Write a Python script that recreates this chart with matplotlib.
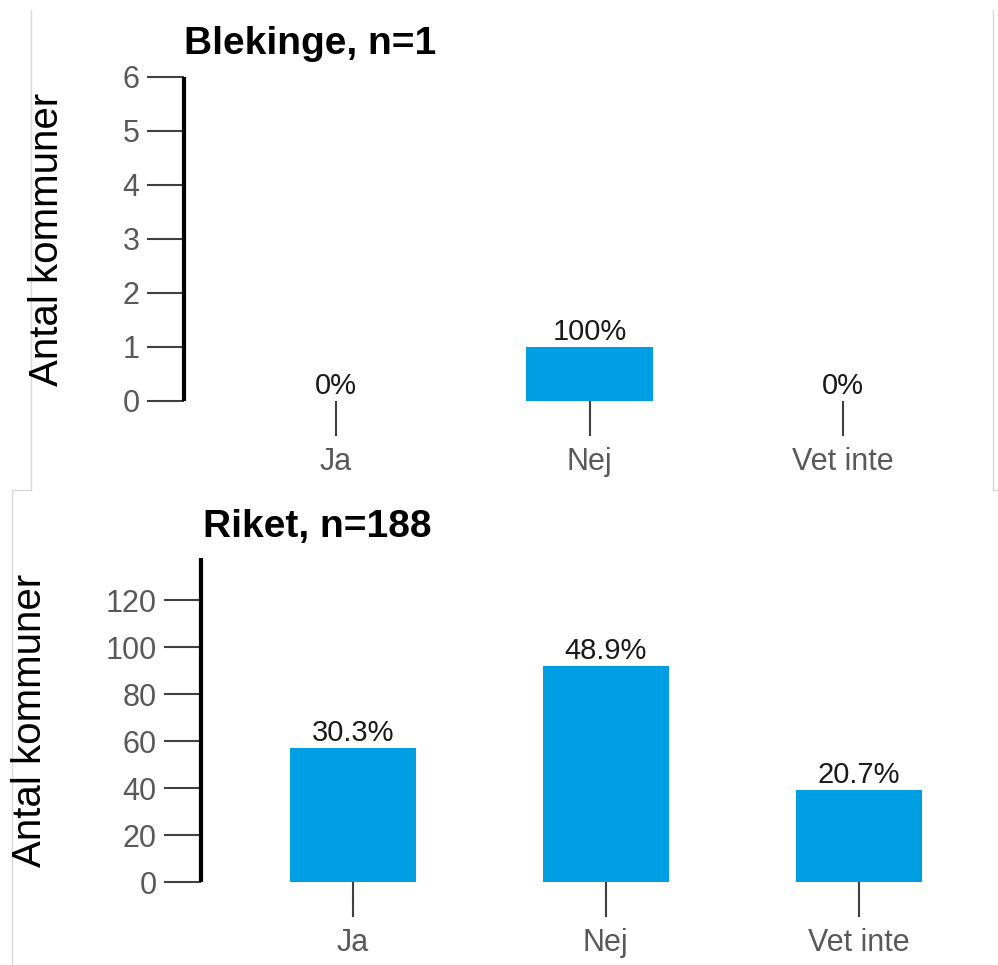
import matplotlib
matplotlib.use("Agg")
import matplotlib.pyplot as plt
from matplotlib.lines import Line2D

plt.rcParams['font.family'] = ['Liberation Sans', 'DejaVu Sans']

# Data
categories = ["Ja", "Nej", "Vet inte"]

blekinge_counts = [0, 1, 0]
blekinge_pct = ["0%", "100%", "0%"]
blekinge_title = "Blekinge, n=1"
blekinge_yticks = [0, 1, 2, 3, 4, 5, 6]

riket_counts = [57, 92, 39]
riket_pct = ["30.3%", "48.9%", "20.7%"]
riket_title = "Riket, n=188"
riket_yticks = [0, 20, 40, 60, 80, 100, 120]

ylabel = "Antal kommuner"
bar_color = "#009FE3"

W, H = 998, 965
fig = plt.figure(figsize=(W / 100, H / 100), dpi=100)


def px_axes(left, right, top, bottom):
    return fig.add_axes([left / W, 1 - bottom / H, (right - left) / W, (bottom - top) / H])


def draw_panel(ax, counts, pcts, yticks, ymax, xmax):
    x = range(len(categories))
    ax.bar(x, counts, width=0.5, color=bar_color, zorder=2)
    for xi, c, p in zip(x, counts, pcts):
        ax.annotate(p, (xi, c), xytext=(0, 1), textcoords="offset points",
                    ha="center", va="bottom", fontsize=21, color="#1a1a1a")
    ax.set_xlim(-0.6, xmax)
    ax.set_ylim(0, ymax)
    ax.set_xticks(list(x))
    ax.set_xticklabels(categories)
    ax.set_yticks(yticks)
    for s in ["top", "right", "bottom"]:
        ax.spines[s].set_visible(False)
    ax.spines["left"].set_linewidth(3)
    ax.spines["left"].set_color("black")
    ax.spines["left"].set_capstyle("butt")
    ax.tick_params(axis="y", length=27, width=1.5, color="#404040",
                   labelcolor="#595959", labelsize=22, pad=5)
    ax.tick_params(axis="x", length=25, width=1.5, color="#404040",
                   labelcolor="#595959", labelsize=22, pad=8)
    ax.patch.set_visible(False)


# Top panel - Blekinge
ax1 = px_axes(184, 184 + 3.2 * 253.5, 77, 401)
draw_panel(ax1, blekinge_counts, blekinge_pct, blekinge_yticks, 6, 2.6)
fig.text(184 / W, 1 - 54 / H, blekinge_title, fontsize=28, fontweight="bold",
         ha="left", va="baseline")
fig.text(47 / W, 1 - 239 / H, ylabel, rotation=90, fontsize=29,
         ha="center", va="center")

# Bottom panel - Riket
ax2 = px_axes(201, 201 + 3.15 * 253, 558, 882)
draw_panel(ax2, riket_counts, riket_pct, riket_yticks, 138, 2.55)
fig.text(203 / W, 1 - 537 / H, riket_title, fontsize=28, fontweight="bold",
         ha="left", va="baseline")
fig.text(30 / W, 1 - 720 / H, ylabel, rotation=90, fontsize=29,
         ha="center", va="center")

# faint panel borders
border = "#d9d9d9"
for (x0, y0, x1, y1) in [(31, 10, 31, 490), (993, 10, 993, 490),
                         (12, 490, 31, 490), (993, 490, 998, 490),
                         (12, 490, 12, 965)]:
    fig.add_artist(Line2D([x0 / W, x1 / W], [1 - y0 / H, 1 - y1 / H],
                          transform=fig.transFigure, color=border, lw=1))

fig.savefig("out.png", dpi=100)
